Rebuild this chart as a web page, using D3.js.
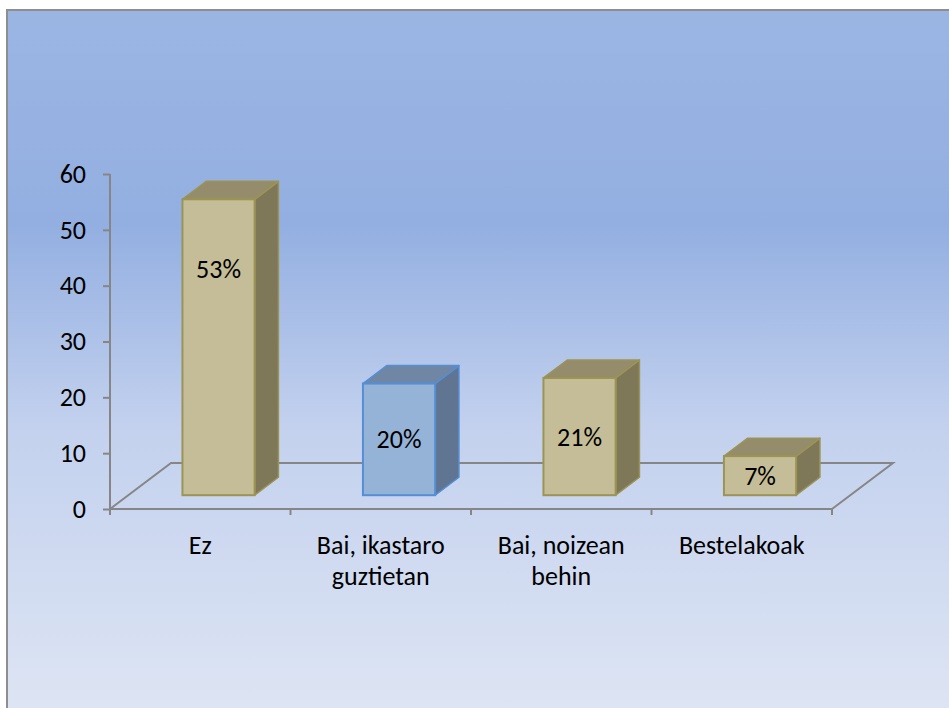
<!DOCTYPE html>
<html>
<head>
<meta charset="utf-8">
<script src="https://cdn.jsdelivr.net/npm/d3@7"></script>
<style>
  html, body { margin: 0; padding: 0; background: #ffffff; }
  svg { display: block; }
  text { font-family: Carlito, Calibri, Lato, "Open Sans", sans-serif; fill: #000; }
</style>
</head>
<body>
<svg id="chart" width="949" height="708"></svg>
<script>
// ---- data ----
const categories = ["Ez", "Bai, ikastaro guztietan", "Bai, noizean behin", "Bestelakoak"];
const categoryLines = [["Ez"], ["Bai, ikastaro", "guztietan"], ["Bai, noizean", "behin"], ["Bestelakoak"]];
const values = [53, 20, 21, 7];
const valueLabels = ["53%", "20%", "21%", "7%"];
const yTicks = [0, 10, 20, 30, 40, 50, 60];
const highlighted = "Bai, ikastaro guztietan";

// ---- layout ----
const W = 949, H = 708;
const svg = d3.select("#chart");
const x0 = 110, x1 = 832;          // front floor edge
const depthDx = 61, depthDy = -46;  // 3D depth vector of floor
const f0 = 0.30, f1 = 0.69;         // bar depth range (fraction of floor depth)
const fontSize = 26;

const x = d3.scaleBand().domain(categories).range([x0, x1]).paddingInner(0).paddingOuter(0);
const y = d3.scaleLinear().domain([0, 60]).range([509, 174]);

// background gradient
const defs = svg.append("defs");
const grad = defs.append("linearGradient").attr("id", "bg").attr("x1", 0).attr("y1", 0).attr("x2", 0).attr("y2", 1);
[[0, "#9BB5E3"], [0.30, "#93AFE1"], [0.58, "#C3D1EE"], [1, "#DFE6F4"]].forEach(([o, c]) =>
  grad.append("stop").attr("offset", o).attr("stop-color", c));

svg.append("rect").attr("x", 7).attr("y", 10).attr("width", W + 10).attr("height", H + 10)
  .attr("fill", "url(#bg)").attr("stroke", "#8E8E8E").attr("stroke-width", 2);

const axisColor = "#868686";
const g = svg.append("g");

// floor
const yZero = y(0);
g.append("path")
  .attr("d", `M${x0},${yZero} L${x0 + depthDx},${yZero + depthDy} L${x1 + depthDx},${yZero + depthDy} L${x1},${yZero}`)
  .attr("fill", "none").attr("stroke", axisColor).attr("stroke-width", 2);

// value axis
const yAxis = d3.axisLeft(y).tickValues(yTicks).tickSize(7).tickPadding(17).tickFormat(d3.format("d"));
const ya = g.append("g").attr("transform", `translate(${x0},0)`).call(yAxis);
ya.select(".domain").attr("stroke", axisColor).attr("stroke-width", 2)
  .attr("d", `M0,${y(60)}V${yZero + 5}`);
ya.selectAll(".tick line").attr("stroke", axisColor).attr("stroke-width", 2);
ya.selectAll(".tick text").style("font-size", fontSize + "px").attr("fill", "#000")
  .style("font-family", "Carlito, Calibri, Lato, sans-serif");

// category axis
const xAxis = d3.axisBottom(x).tickSize(0).tickFormat("");
const xa = g.append("g").attr("transform", `translate(0,${yZero})`).call(xAxis);
xa.select(".domain").attr("stroke", axisColor).attr("stroke-width", 2).attr("d", `M${x0},0H${x1}`);
const boundaries = categories.map(c => x(c)).concat([x1]);
xa.selectAll(".sep").data(boundaries).enter().append("line").attr("class", "sep")
  .attr("x1", d => d).attr("x2", d => d).attr("y1", 0).attr("y2", 6)
  .attr("stroke", axisColor).attr("stroke-width", 2);

// category labels
categories.forEach((c, i) => {
  const t = g.append("text").attr("x", x(c) + x.bandwidth() / 2).attr("y", yZero + 45)
    .attr("text-anchor", "middle").style("font-size", fontSize + "px");
  categoryLines[i].forEach((line, j) => {
    t.append("tspan").attr("x", x(c) + x.bandwidth() / 2).attr("dy", j === 0 ? 0 : 31).text(line);
  });
});

// bars
const barW = x.bandwidth() * 0.40;
const ddx = (f1 - f0) * depthDx, ddy = (f1 - f0) * depthDy;
const palette = {
  normal: { front: "#C4BD97", top: "#948C6A", side: "#7E7858", stroke: "#9C9455" },
  highlight: { front: "#95B3D7", top: "#6F86A5", side: "#5F7591", stroke: "#558ED5" }
};

const bars = g.selectAll(".bar").data(categories.map((c, i) => ({ c, v: values[i], label: valueLabels[i] })))
  .enter().append("g").attr("class", "bar");

bars.each(function(d) {
  const sel = d3.select(this);
  const col = d.c === highlighted ? palette.highlight : palette.normal;
  const xl = x(d.c) + x.bandwidth() / 2 - barW / 2 + f0 * depthDx;
  const xr = xl + barW;
  const yb = y(0) + f0 * depthDy;
  const yt = yb - (y(0) - y(d.v));
  sel.append("path")
    .attr("d", `M${xr},${yt} L${xr + ddx},${yt + ddy} L${xr + ddx},${yb + ddy} L${xr},${yb} Z`)
    .attr("fill", col.side).attr("stroke", col.stroke).attr("stroke-width", 1.5).attr("stroke-linejoin", "round");
  sel.append("path")
    .attr("d", `M${xl},${yt} L${xl + ddx},${yt + ddy} L${xr + ddx},${yt + ddy} L${xr},${yt} Z`)
    .attr("fill", col.top).attr("stroke", col.stroke).attr("stroke-width", 1.5).attr("stroke-linejoin", "round");
  sel.append("rect").attr("x", xl).attr("y", yt).attr("width", barW).attr("height", yb - yt)
    .attr("fill", col.front).attr("stroke", col.stroke).attr("stroke-width", 2);
  const h = yb - yt;
  sel.append("text").attr("x", xl + barW / 2).attr("y", yt + Math.min(h / 2, 70))
    .attr("text-anchor", "middle").attr("dominant-baseline", "central")
    .style("font-size", fontSize + "px").text(d.label);
});
</script>
</body>
</html>
